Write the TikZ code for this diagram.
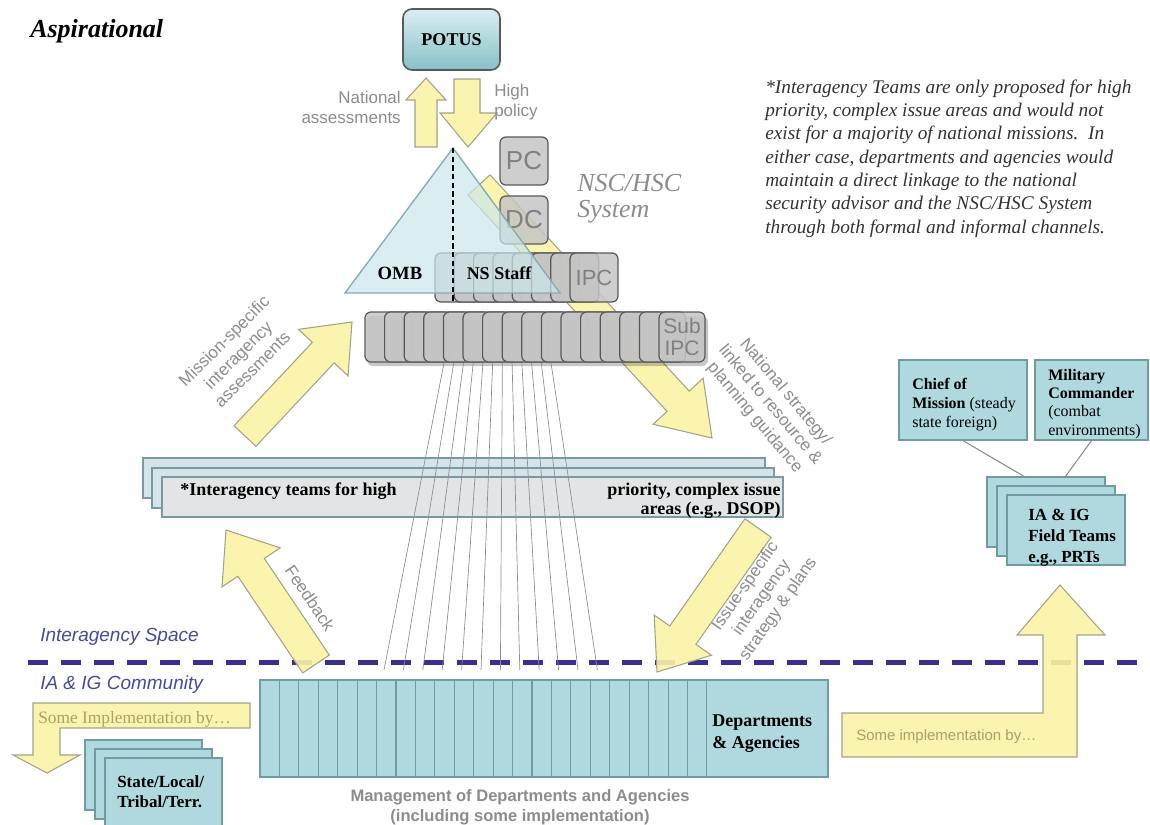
\documentclass[tikz,border=0pt]{standalone}
\usepackage{fontspec}
\setmainfont{Liberation Serif}
\setsansfont{Liberation Sans}
\usetikzlibrary{calc}
\definecolor{yel}{HTML}{FAF3A6}
\definecolor{yelb}{HTML}{A3A38C}
\definecolor{grayf}{HTML}{C5C5C5}
\definecolor{grayb}{HTML}{595959}
\definecolor{grayt}{HTML}{808080}
\definecolor{trif}{HTML}{CBE6EA}
\definecolor{trib}{HTML}{86ABB0}
\definecolor{tealf}{HTML}{AFD9DF}
\definecolor{tealb}{HTML}{6E9CA2}
\definecolor{iaf}{HTML}{D3E5E8}
\definecolor{iaff}{HTML}{E2E5E5}
\definecolor{iab}{HTML}{7C9A9E}
\definecolor{pott}{HTML}{D8EEF1}
\definecolor{potb}{HTML}{88C0C8}
\definecolor{dashc}{HTML}{3B2E93}
\definecolor{lblc}{HTML}{8C8C8C}
\definecolor{bluel}{HTML}{4A47A3}
\definecolor{olive}{HTML}{ABA068}
\definecolor{notec}{HTML}{333333}
\newcommand{\myfs}[2]{\fontsize{#1pt}{#2pt}\selectfont}
\newcommand{\blkarrow}[5]{%
  \coordinate (bah) at ($(#2)!#5!(#1)$);
  \path[yarrow] ($(#1)!#3!90:(#2)$) -- ($(bah)!#3!90:(#2)$) -- ($(bah)!#4!90:(#2)$) -- (#2)
     -- ($(bah)!#4!-90:(#2)$) -- ($(bah)!#3!-90:(#2)$) -- ($(#1)!#3!-90:(#2)$) -- cycle;}
\tikzset{
  yarrow/.style={fill=yel, draw=yelb, line width=0.8pt, fill opacity=0.9},
  graybox/.style={rounded corners=4.5pt, fill=grayf, draw=grayb, line width=0.9pt, fill opacity=0.85, text opacity=1, inner sep=0pt, text=grayt, font=\sffamily},
  tealbox/.style={fill=tealf, draw=tealb, line width=0.9pt, inner sep=0pt},
  iabox/.style={fill=iaf, draw=iab, line width=0.9pt, inner sep=0pt},
  lbl/.style={font=\sffamily\myfs{12.75}{15}, text=lblc, inner sep=0pt},
  rlbl/.style={font=\sffamily\myfs{12.75}{15}, text=lblc, inner sep=0pt, align=center},
  fanline/.style={draw=lblc, line width=0.5pt},
  conn/.style={draw=lblc, line width=0.8pt},
  tx/.style={inner sep=0pt},
}
\begin{document}
\begin{tikzpicture}[x=0.75pt,y=-0.75pt]
\useasboundingbox (0,0) rectangle (1150,825);

% national strategy arrow (behind NSC system)
\coordinate (nss) at (479,185); \coordinate (nst) at (712,438);
\blkarrow{nss}{nst}{11.25pt}{25.5pt}{37.5pt}

% PC DC
\node[graybox, minimum width=36pt, minimum height=36pt, font=\sffamily\myfs{19.5}{20}] (pc) at (524,161) {PC};
\node[graybox, minimum width=36pt, minimum height=36pt, font=\sffamily\myfs{19.5}{20}] (dc) at (524,220) {DC};

% NS staff cards
\foreach \i in {0,...,6} {\node[graybox, minimum width=36pt, minimum height=36.75pt] (card\i) at ({459+19.3*\i},277.5) {};}
\node[graybox, minimum width=36pt, minimum height=36.75pt, font=\sffamily\myfs{16.5}{17}] (ipc) at (594,277.5) {IPC};

% triangle
\coordinate (apex) at (453,148); \coordinate (tbl) at (345,293); \coordinate (tbr) at (560,293);
\path[fill=trif, fill opacity=0.7, draw=trib, line width=1pt] (apex) -- (tbl) -- (tbr) -- cycle;
\coordinate (dashend) at (453,303);
\draw[line width=0.9pt, dash pattern=on 4pt off 2.5pt] (apex) -- (dashend);

% Sub IPC row
\fill[black, opacity=0.22, rounded corners=4.5pt] (367,316) rectangle (708,366);
\foreach \i in {0,...,14} {\node[graybox, minimum width=34.5pt, minimum height=37.5pt] (sub\i) at ({388+19.6*\i},337) {};}
\node[graybox, minimum width=34.5pt, minimum height=37.5pt, align=center, font=\sffamily\myfs{15.75}{16.5}] (subipc) at (682,337) {Sub\\IPC};

\node[tx, font=\bfseries\myfs{14}{15}, anchor=base] (omb) at (400,279) {OMB};
\node[tx, font=\bfseries\myfs{13.5}{15}, anchor=base] (nsstaff) at (499,279) {NS Staff};

% POTUS and arrows
\node[rounded corners=6.75pt, top color=pott, bottom color=potb, draw=grayb, line width=1.2pt, minimum width=72.75pt, minimum height=45.75pt, font=\bfseries\myfs{13.5}{14}] (potus) at (451.5,39.5) {POTUS};
\path[yarrow] (415,147) -- (415,100) -- (406,100) -- (426,78) -- (446,100) -- (437,100) -- (437,147) -- cycle;
\path[yarrow] (454,79) -- (480,79) -- (480,113) -- (497,113) -- (468,147) -- (440,113) -- (454,113) -- cycle;
\node[lbl, anchor=base east, align=right] (natass) at (401,123) {National\\assessments};
\node[lbl, anchor=base west, align=left] (hipol) at (494,116) {High\\policy};
\node[tx, font=\itshape\myfs{19.5}{19.5}, text=lblc, anchor=base west, align=left] (nschsc) at (577,217) {NSC/HSC\\System};

\node[tx, font=\bfseries\itshape\myfs{19.5}{21}, anchor=base west] (title) at (30,37) {Aspirational};
\node[tx, font=\itshape\myfs{14.5}{17.5}, text=notec, anchor=base west, align=left] (note) at (765,233)
 {*Interagency Teams are only proposed for high\\priority, complex issue areas and would not\\exist for a majority of national missions.\ \ In\\either case, departments and agencies would\\maintain a direct linkage to the national\\security advisor and the NSC/HSC System\\through both formal and informal channels.};

% Interagency teams
\node[iabox, minimum width=466.5pt, minimum height=30pt] (ia1) at (454,478) {};
\node[iabox, minimum width=466.5pt, minimum height=30pt] (ia2) at (463,488) {};
\node[iabox, fill=iaff, minimum width=465.75pt, minimum height=30pt] (ia3) at (472.5,497) {};
\node[tx, font=\bfseries\myfs{13.5}{14.25}, anchor=base west] (iat1) at (180,495) {*Interagency teams for high};
\node[tx, font=\bfseries\myfs{13.5}{14.25}, anchor=base east, align=right] (iat2) at (781,514) {priority, complex issue\\areas (e.g., DSOP)};

% mission-specific arrow
\coordinate (mss) at (245,436); \coordinate (mst) at (352,322);
\blkarrow{mss}{mst}{11.25pt}{25.5pt}{31.5pt}
\node[rlbl, rotate=45] (mstxt) at (238,355) {Mission-specific\\interagency\\assessments};
\node[rlbl, rotate=-50] (nstxt) at (770,405) {National strategy/\\linked to resource \&\\planning guidance};

% dashed boundary
\coordinate (dl) at (28,662); \coordinate (dr) at (1140,662);
\draw[line width=3.75pt, draw=dashc, dash pattern=on 15pt off 9.75pt] (dl) -- (dr);
\node[tx, font=\sffamily\itshape\myfs{14.25}{15}, text=bluel, anchor=base west] (iaspace) at (40,641) {Interagency Space};
\node[tx, font=\sffamily\itshape\myfs{14.25}{15}, text=bluel, anchor=base west] (iacomm) at (40,689) {IA \& IG Community};

% fan lines
\foreach \k in {0,...,11} {\draw[fanline] ({444+9.73*\k},363) -- ({384+19.4*\k},670);}

% Departments
\node[tealbox, minimum width=426pt, minimum height=72.75pt] (dept) at (544,728.5) {};
\foreach \k in {1,...,23} {\draw[draw=tealb, line width=0.8pt] ({260+19.43*\k},680) -- ({260+19.43*\k},777);}
\node[tx, font=\bfseries\myfs{13.5}{16.5}, anchor=base west, align=left] (depttxt) at (712,748) {Departments\\\& Agencies};
\node[tx, font=\sffamily\bfseries\myfs{12.4}{15}, text=lblc, align=center, anchor=base] (mgmt) at (520,821) {Management of Departments and Agencies\\(including some implementation)};

% feedback and issue arrows
\coordinate (fbs) at (316,664); \coordinate (fbt) at (226,530);
\blkarrow{fbs}{fbt}{12pt}{26.25pt}{33.75pt}
\node[rlbl, rotate=-56] (fbtxt) at (310,598) {Feedback};
\coordinate (iss) at (758,528); \coordinate (ist) at (657,672);
\blkarrow{iss}{ist}{12pt}{26.25pt}{33.75pt}
\node[rlbl, rotate=55] (istxt) at (762,598) {Issue-specific\\interagency\\strategy \& plans};

% left implementation
\path[yarrow] (33,703) -- (250,703) -- (250,728) -- (60,728) -- (60,755) -- (80,755) -- (47,773) -- (13,755) -- (33,755) -- cycle;
\node[tx, font=\myfs{13}{14}, text=olive, anchor=base west] (simpl) at (38,723) {Some Implementation by…};
\node[tealbox, minimum width=87.75pt, minimum height=52.5pt] (st1) at (143.5,775) {};
\node[tealbox, minimum width=87.75pt, minimum height=52.5pt] (st2) at (153.5,784) {};
\node[tealbox, minimum width=87.75pt, minimum height=52.5pt] (st3) at (163.5,793) {};
\node[tx, font=\bfseries\myfs{12.75}{15}, anchor=base west, align=left] (sttxt) at (117,807) {State/Local/\\Tribal/Terr.};

% right implementation
\path[yarrow] (842,713) -- (1043,713) -- (1043,635) -- (1017,635) -- (1060,585) -- (1105,635) -- (1077,635) -- (1077,757) -- (842,757) -- cycle;
\node[tx, font=\sffamily\myfs{11.25}{12}, text=olive, anchor=base west] (simpr) at (856,740) {Some implementation by…};

% field
\node[tealbox, minimum width=96pt, minimum height=60pt] (chief) at (963,400) {};
\node[tealbox, minimum width=84.75pt, minimum height=60pt] (mil) at (1091.5,400) {};
\node[tx, font=\myfs{12}{13.9}, anchor=base west, align=left] (chieftxt) at (912,427) {\textbf{Chief of}\\\textbf{Mission} (steady\\state foreign)};
\node[tx, font=\myfs{12}{13.75}, anchor=base west, align=left] (miltxt) at (1048,435) {\textbf{Military}\\\textbf{Commander}\\(combat\\environments)};
\node[tealbox, minimum width=88.5pt, minimum height=52.5pt] (fb1) at (1046,512) {};
\node[tealbox, minimum width=88.5pt, minimum height=52.5pt] (fb2) at (1056,521) {};
\node[tealbox, minimum width=88.5pt, minimum height=52.5pt] (fb3) at (1066,530) {};
\node[tx, font=\bfseries\myfs{12.75}{15.4}, anchor=base west, align=left] (fbtxt2) at (1028,562) {IA \& IG\\Field Teams\\e.g., PRTs};
\coordinate (fbl) at (1025,477); \coordinate (fbr) at (1065,477);
\draw[conn] (chief.south) -- (fbl);
\draw[conn] (mil.south) -- (fbr);
\end{tikzpicture}
\end{document}
